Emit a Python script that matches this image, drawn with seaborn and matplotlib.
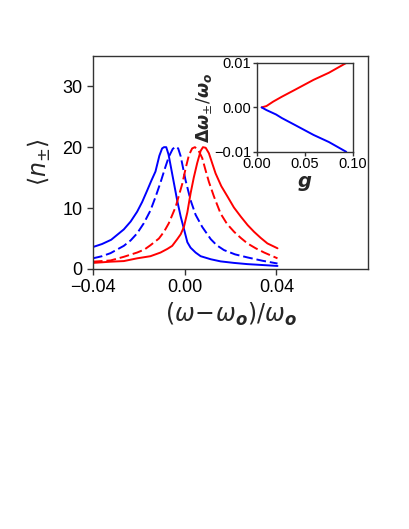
import matplotlib
matplotlib.use("Agg")
import matplotlib.pyplot as plt
import seaborn as sns

# main panel: <n+-> versus detuning, solid and dashed pairs
bs_x = [-0.040, -0.036, -0.032, -0.0265, -0.0235, -0.0207, -0.0185, -0.0163, -0.0145, -0.0127,
        -0.0110, -0.0098, -0.0090, -0.0080, -0.0070, -0.0061, -0.0047, -0.0032, -0.0017, -0.0003,
        0.0012, 0.0026, 0.0048, 0.0070, 0.0114, 0.0157, 0.0215, 0.0274, 0.0340, 0.0405]
bs_y = [3.6, 4.1, 4.8, 6.5, 7.8, 9.4, 11.0, 12.9, 14.5, 16.0,
        18.6, 19.8, 20.0, 20.0, 18.8, 17.0, 14.2, 11.2, 8.6, 6.6,
        4.4, 3.5, 2.7, 2.1, 1.6, 1.25, 1.0, 0.8, 0.65, 0.5]

bd_x = [-0.040, -0.036, -0.0323, -0.0265, -0.0235, -0.0207, -0.0178, -0.0149, -0.0127, -0.0105,
        -0.0085, -0.0069, -0.0052, -0.0039, -0.0028, -0.0017, 0.0004, 0.0026, 0.0048, 0.0077,
        0.0114, 0.0140, 0.0172, 0.0220, 0.0274, 0.0340, 0.0405]
bd_y = [1.75, 2.1, 2.6, 3.8, 4.7, 5.85, 7.5, 9.6, 11.8, 14.2,
        16.6, 18.4, 19.7, 20.1, 19.8, 18.5, 14.6, 11.3, 8.9, 6.9,
        4.9, 3.9, 3.1, 2.4, 1.9, 1.35, 0.9]

rd_x = [-0.040, -0.0323, -0.0265, -0.0207, -0.0175, -0.0149, -0.0112, -0.0090, -0.0069, -0.0039,
        -0.0010, 0.0005, 0.0019, 0.0033, 0.0045, 0.0060, 0.0077, 0.0090, 0.0106, 0.0128,
        0.0157, 0.0185, 0.0216, 0.0245, 0.0274, 0.0310, 0.0347, 0.0405]
rd_y = [1.2, 1.4, 2.0, 2.7, 3.2, 3.9, 5.0, 6.1, 7.5, 10.2,
        14.0, 16.6, 18.7, 19.8, 20.0, 19.5, 18.2, 16.4, 14.3, 11.9,
        9.1, 7.4, 6.1, 5.1, 4.2, 3.4, 2.7, 1.75]

rs_x = [-0.040, -0.036, -0.0323, -0.0265, -0.0207, -0.0149, -0.0105, -0.0075, -0.0054, -0.0032,
        -0.0017, -0.0003, 0.0012, 0.0026, 0.0040, 0.0055, 0.0070, 0.0080, 0.0092, 0.0106,
        0.0120, 0.0135, 0.0160, 0.0187, 0.0215, 0.0245, 0.0275, 0.0303, 0.0332, 0.0361, 0.0405]
rs_y = [1.0, 1.1, 1.2, 1.3, 1.75, 2.1, 2.7, 3.3, 3.8, 4.9,
        5.7, 6.9, 9.3, 12.4, 15.0, 17.4, 19.4, 20.0, 19.9, 19.0,
        17.4, 15.7, 13.6, 11.9, 10.1, 8.6, 7.2, 6.1, 5.1, 4.2, 3.4]

# inset: splitting versus coupling g
g_red = [0.005, 0.010, 0.017, 0.026, 0.040, 0.059, 0.075, 0.093]
d_red = [0.0, 0.0003, 0.0013, 0.0024, 0.0040, 0.0062, 0.0078, 0.0100]
g_blue = [0.005, 0.010, 0.020, 0.026, 0.040, 0.059, 0.075, 0.093]
d_blue = [0.0, -0.0006, -0.0016, -0.0024, -0.0040, -0.0062, -0.0078, -0.0100]

sns.set_style("ticks")
plt.rcParams["font.family"] = ["Liberation Sans", "DejaVu Sans"]
plt.rcParams["mathtext.fontset"] = "dejavusans"
plt.rcParams["axes.edgecolor"] = "#333333"
plt.rcParams["xtick.color"] = "#333333"
plt.rcParams["ytick.color"] = "#333333"
plt.rcParams["xtick.labelcolor"] = "black"
plt.rcParams["ytick.labelcolor"] = "black"

fig = plt.figure(figsize=(4.09, 5.29), dpi=100)
ax = fig.add_axes([0.227, 0.4915, 0.673, 0.403])

sns.lineplot(x=bs_x, y=bs_y, color="blue", lw=1.4, ax=ax)
sns.lineplot(x=bd_x, y=bd_y, color="blue", lw=1.4, linestyle=(0, (5, 2)), ax=ax)
sns.lineplot(x=rd_x, y=rd_y, color="red", lw=1.4, linestyle=(0, (5, 2)), ax=ax)
sns.lineplot(x=rs_x, y=rs_y, color="red", lw=1.4, ax=ax)

ax.set_xlim(-0.04, 0.08)
ax.set_ylim(0, 35)
ax.set_xticks([-0.04, 0.0, 0.04])
ax.set_xticklabels(["\u22120.04", "0.00", "0.04"])
ax.set_yticks([0, 10, 20, 30])
ax.tick_params(labelsize=13, length=4, width=1)
for s in ax.spines.values():
    s.set_linewidth(1)
ax.set_xlabel(r"$(\omega\!-\!\omega_{\mathbfit{o}})/\omega_{\mathbfit{o}}$",
              fontsize=17, labelpad=3)
ax.set_ylabel(r"$\langle n_{\pm}\rangle$", fontsize=17, labelpad=7)

ins = fig.add_axes([0.628, 0.713, 0.235, 0.168])
sns.lineplot(x=g_red, y=d_red, color="red", lw=1.4, ax=ins)
sns.lineplot(x=g_blue, y=d_blue, color="blue", lw=1.4, ax=ins)
ins.set_xlim(0, 0.1)
ins.set_ylim(-0.01, 0.01)
ins.set_xticks([0.0, 0.05, 0.10])
ins.set_xticklabels(["0.00", "0.05", "0.10"])
ins.set_yticks([-0.01, 0.0, 0.01])
ins.set_yticklabels(["\u22120.01", "0.00", "0.01"])
ins.tick_params(labelsize=10.5, length=3, width=1, pad=1)
for s in ins.spines.values():
    s.set_linewidth(1)
ins.set_xlabel(r"$\mathbfit{g}$", fontsize=14, labelpad=2)
ins.set_ylabel(r"$\mathbf{\Delta}\mathbfit{\omega}_{\pm}/\mathbfit{\omega}_{\mathbfit{o}}$",
               fontsize=12.5, labelpad=0)

fig.savefig("out.png", dpi=100)
